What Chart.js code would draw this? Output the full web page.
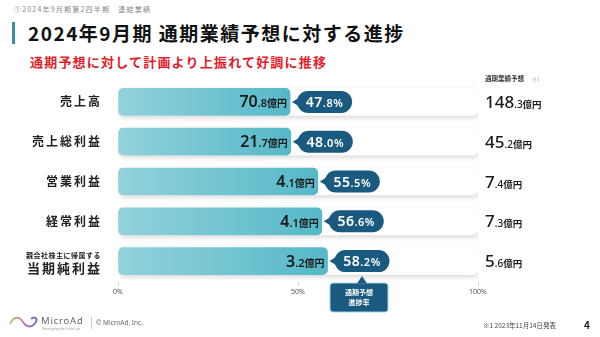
<!DOCTYPE html>
<html><head><meta charset="utf-8">
<script src="https://cdn.jsdelivr.net/npm/chart.js@4"></script>
<style>
html,body{margin:0;padding:0;background:#fff;}
body{width:600px;height:337px;position:relative;overflow:hidden;font-family:"Noto Sans CJK JP","Noto Sans",sans-serif;}
#wrap{position:absolute;left:0;top:0;width:600px;height:337px;}
.t{position:absolute;white-space:nowrap;}
</style></head><body>
<div class="t" style="left:14px;top:4px;font-size:7px;color:#888;letter-spacing:1.2px;">①2024年9月期第2四半期　連結業績</div>
<div style="position:absolute;left:12px;top:22px;width:3px;height:22px;background:#3f8ea3;"></div>
<div class="t" style="left:28px;top:19px;font-size:19px;font-weight:700;color:#111;letter-spacing:1.5px;">2024年9月期 通期業績予想に対する進捗</div>
<div class="t" style="left:30px;top:52px;font-size:13px;font-weight:700;color:#e3202a;letter-spacing:1.2px;">通期予想に対して計画より上振れて好調に推移</div>
<div id="wrap"><canvas id="c" width="600" height="337"></canvas></div>
<svg style="position:absolute;left:8px;top:314px" width="32" height="16" viewBox="0 0 32 16">
<defs><linearGradient id="lg" x1="0" x2="1"><stop offset="0" stop-color="#9bd36b"/><stop offset="0.5" stop-color="#d66bb0"/><stop offset="1" stop-color="#6b6bd6"/></linearGradient></defs>
<path d="M2 10 C6 2, 11 2, 15 8 C19 14, 24 14, 28 8 C30 4, 26 2, 23 5" fill="none" stroke="url(#lg)" stroke-width="1.8"/>
</svg>
<div class="t" style="left:41px;top:314px;font-size:9.5px;color:#666;letter-spacing:0.8px;font-family:'Noto Sans',sans-serif;">MicroAd</div>
<div class="t" style="left:42px;top:327px;font-size:3px;color:#999;">Redesigning the Future Lab</div>
<div style="position:absolute;left:91px;top:317px;width:1px;height:12px;background:#ccc;"></div>
<div class="t" style="left:96px;top:318px;font-size:6.5px;color:#666;font-family:'Noto Sans',sans-serif;">© MicroAd, Inc.</div>
<div class="t" style="left:483px;top:320px;font-size:6.5px;color:#444;">※1 2023年11月14日発表</div>
<div class="t" style="left:584px;top:317px;font-size:10px;font-weight:700;color:#222;">4</div>
<script>
const categories = ['売上高','売上総利益','営業利益','経常利益','当期純利益'];
const progressPct = [47.8, 48.0, 55.5, 56.6, 58.2];
const actualValues = ['70.8','21.7','4.1','4.1','3.2'];
const forecastValues = ['148.3','45.2','7.4','7.3','5.6'];
const fullScale = [100,100,100,100,100];
const xTicks = [0, 50, 100];

const NUMF = '"Noto Sans","Noto Sans CJK JP",sans-serif';
const JPF = '"Noto Sans CJK JP",sans-serif';

function splitNum(s){ const i=s.indexOf('.'); return [s.slice(0,i), s.slice(i)]; }

function drawMixed(ctx, parts, x, y, align){
  let w=0; parts.forEach(p=>{ctx.font=p.font; p.w=ctx.measureText(p.t).width; w+=p.w;});
  let cx = align==='right'? x-w : align==='center'? x-w/2 : x;
  ctx.textAlign='left'; ctx.textBaseline='alphabetic';
  parts.forEach(p=>{ctx.font=p.font; ctx.fillStyle=p.color; ctx.fillText(p.t,cx,y); cx+=p.w;});
  return w;
}
function rr(ctx,x,y,w,h,r){ctx.beginPath();ctx.moveTo(x+r,y);ctx.lineTo(x+w-r,y);ctx.arcTo(x+w,y,x+w,y+r,r);ctx.lineTo(x+w,y+h-r);ctx.arcTo(x+w,y+h,x+w-r,y+h,r);ctx.lineTo(x+r,y+h);ctx.arcTo(x,y+h,x,y+h-r,r);ctx.lineTo(x,y+r);ctx.arcTo(x,y,x+r,y,r);ctx.closePath();}

const shadowPlugin = {
  id:'shadow',
  beforeDatasetDraw(chart,args){
    if(args.index===1){const c=chart.ctx;c.save();c.shadowColor='rgba(0,0,0,0.16)';c.shadowBlur=5;c.shadowOffsetX=1;c.shadowOffsetY=2;}
  },
  afterDatasetDraw(chart,args){ if(args.index===1){chart.ctx.restore();} }
};

const labelPlugin = {
  id:'labels',
  afterDraw(chart){
    const ctx=chart.ctx, xs=chart.scales.x, ys=chart.scales.y;
    ctx.save();
    const navy='#1b5a80';
    categories.forEach((cat,i)=>{
      const yc = ys.getPixelForValue(i);
      const xe = xs.getPixelForValue(progressPct[i]);
      ctx.fillStyle='#222'; ctx.textAlign='right'; ctx.textBaseline='middle';
      ctx.letterSpacing='2px';
      if(i===4){
        ctx.letterSpacing='0.5px';
        ctx.font='700 7px '+JPF; ctx.fillText('親会社株主に帰属する',101,yc-6);
        ctx.letterSpacing='2px';
        ctx.font='700 13px '+JPF; ctx.fillText(cat,102,yc+7);
      } else {
        ctx.font='700 12px '+JPF; ctx.fillText(cat,102,yc);
      }
      ctx.letterSpacing='0px';
      const [a,b]=splitNum(actualValues[i]);
      drawMixed(ctx,[{t:a,font:'600 16px '+NUMF,color:'#1a1a1a'},{t:b,font:'600 11px '+NUMF,color:'#1a1a1a'},{t:'億円',font:'700 10px '+JPF,color:'#1a1a1a'}],xe-3,yc+5.5,'right');
      const tip=xe+2, px=tip+5, pw=55, ph=22, py=yc-ph/2;
      ctx.fillStyle=navy;
      rr(ctx,px,py,pw,ph,11); ctx.fill();
      ctx.beginPath(); ctx.moveTo(tip,yc); ctx.lineTo(px+3,yc-5); ctx.lineTo(px+3,yc+5); ctx.closePath(); ctx.fill();
      const [c,d]=splitNum(progressPct[i].toFixed(1));
      ctx.letterSpacing='0.5px';
      drawMixed(ctx,[{t:c,font:'600 14px '+NUMF,color:'#fff'},{t:d+'%',font:'600 11px '+NUMF,color:'#fff'}],px+pw/2,yc+5,'center');
      ctx.letterSpacing='0px';
      const [e,f]=splitNum(forecastValues[i]);
      drawMixed(ctx,[{t:e,font:'500 17px '+NUMF,color:'#1a1a1a'},{t:f,font:'500 10px '+NUMF,color:'#1a1a1a'},{t:'億円',font:'700 9.5px '+JPF,color:'#1a1a1a'}],485,yc+6,'left');
      if(i===4){
        const cxp = px+pw/2;
        const bx=330, by=283, bw=58, bh=29;
        ctx.fillStyle=navy; ctx.strokeStyle='#9fd3e0'; ctx.lineWidth=1;
        rr(ctx,bx,by,bw,bh,3); ctx.fill(); ctx.stroke();
        ctx.beginPath(); ctx.moveTo(cxp-5,by+0.5); ctx.lineTo(cxp,yc+ph/2+4); ctx.lineTo(cxp+5,by+0.5); ctx.closePath(); ctx.fill();
        ctx.fillStyle='#fff'; ctx.font='700 7px '+JPF; ctx.textAlign='center'; ctx.textBaseline='middle';
        ctx.fillText('通期予想',bx+bw/2,by+9.5); ctx.fillText('進捗率',bx+bw/2,by+19.5);
      }
    });
    ctx.textAlign='left'; ctx.textBaseline='middle';
    ctx.fillStyle='#333'; ctx.font='700 6.5px '+JPF; ctx.fillText('通期業績予想',485,79);
    ctx.fillStyle='#999'; ctx.font='5px '+JPF; ctx.fillText('※1',532,79);
    ctx.restore();
  }
};

new Chart(document.getElementById('c'),{
  type:'bar',
  data:{
    labels:categories,
    datasets:[
      {data:progressPct, order:1, barThickness:27, borderRadius:5, borderSkipped:false,
       backgroundColor(ctx){
         const ch=ctx.chart; if(!ch.chartArea) return '#6cc3cf';
         const x0=ch.scales.x.getPixelForValue(0), x1=ch.scales.x.getPixelForValue(ctx.raw??50);
         const g=ch.ctx.createLinearGradient(x0,0,x1,0);
         g.addColorStop(0,'#93d2db'); g.addColorStop(1,'#55b8c8'); return g;
       }},
      {data:fullScale, order:2, barThickness:27, borderRadius:6, borderSkipped:false, backgroundColor:'#ffffff'}
    ]
  },
  options:{
    indexAxis:'y', responsive:false, animation:false,
    layout:{padding:{left:118,right:122,top:82,bottom:36}},
    plugins:{legend:{display:false},tooltip:{enabled:false}},
    scales:{
      y:{display:false, stacked:false},
      x:{min:0,max:100, afterFit(s){s.height=20;},
         afterBuildTicks(s){s.ticks=xTicks.map(v=>({value:v}));},
         ticks:{callback:v=>v+'%', font:{size:7,family:NUMF}, color:'#555', padding:2, maxRotation:0},
         grid:{drawOnChartArea:false, drawTicks:true, tickLength:5, color:'#ddd'},
         border:{display:false}}
    },
    datasets:{bar:{grouped:false}}
  },
  plugins:[shadowPlugin,labelPlugin]
});
</script>
</body></html>
